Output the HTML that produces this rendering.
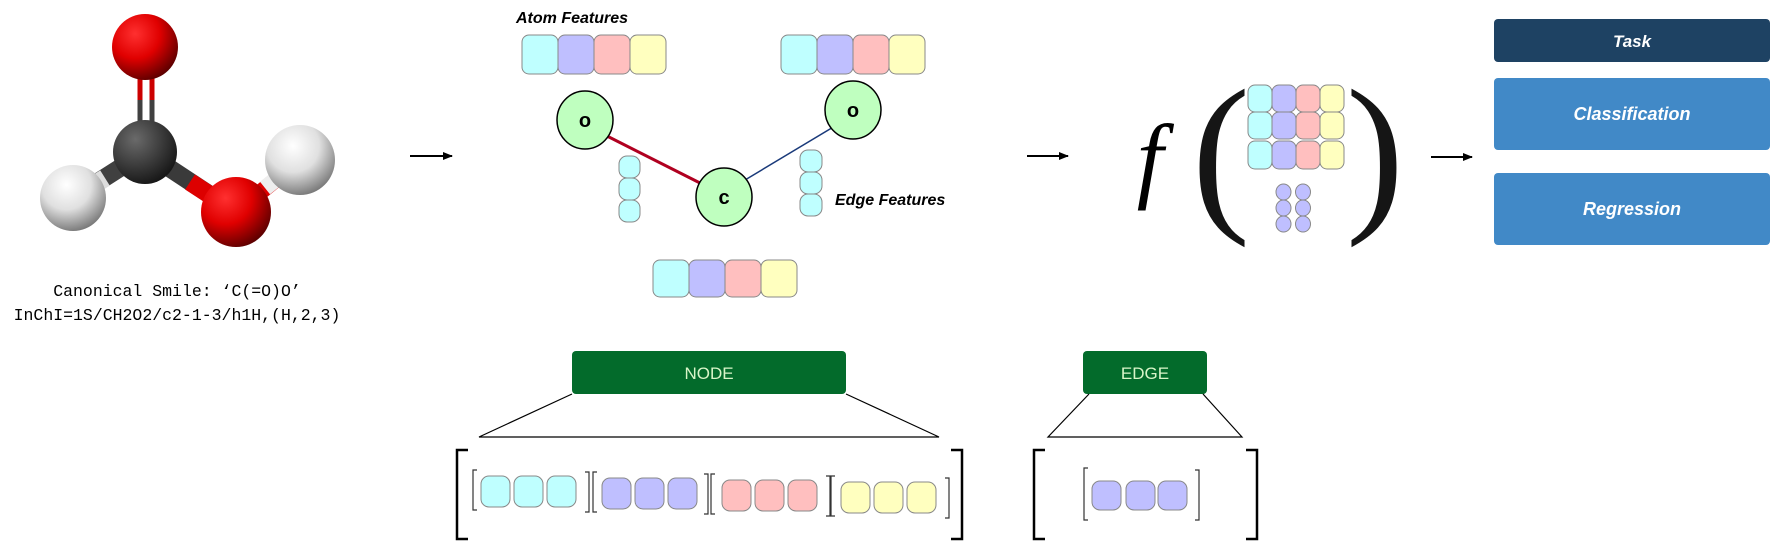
<!DOCTYPE html>
<html><head><meta charset="utf-8"><style>
html,body{margin:0;padding:0;background:#fff;}
svg{display:block}
.cur{font-family:"Liberation Sans",sans-serif;font-style:italic;font-weight:bold;}
</style></head><body>
<svg width="1775" height="546" viewBox="0 0 1775 546" xmlns="http://www.w3.org/2000/svg">
<defs>
<radialGradient id="rO" cx="0.35" cy="0.3" r="0.75"><stop offset="0" stop-color="#ff3030"/><stop offset="0.5" stop-color="#e00000"/><stop offset="1" stop-color="#5a0000"/></radialGradient>
<radialGradient id="rC" cx="0.35" cy="0.3" r="0.75"><stop offset="0" stop-color="#6a6a6a"/><stop offset="0.5" stop-color="#404040"/><stop offset="1" stop-color="#151515"/></radialGradient>
<radialGradient id="rH" cx="0.4" cy="0.3" r="0.75"><stop offset="0" stop-color="#ffffff"/><stop offset="0.5" stop-color="#e0e0e0"/><stop offset="1" stop-color="#707070"/></radialGradient>
<marker id="ar" markerWidth="10" markerHeight="8" refX="9" refY="4" orient="auto" markerUnits="userSpaceOnUse"><path d="M0,0 L10,4 L0,8 z" fill="#000"/></marker>
</defs>
<!-- molecule bonds -->
<g stroke-linecap="butt">
<line x1="140" y1="70" x2="140" y2="140" stroke="#cc0000" stroke-width="5"/>
<line x1="152" y1="70" x2="152" y2="140" stroke="#cc0000" stroke-width="5"/>
<line x1="140" y1="100" x2="140" y2="140" stroke="#404040" stroke-width="5"/>
<line x1="152" y1="100" x2="152" y2="140" stroke="#404040" stroke-width="5"/>
<line x1="145" y1="152" x2="73" y2="198" stroke="#404040" stroke-width="18"/>
<line x1="105" y1="178" x2="73" y2="198" stroke="#dddddd" stroke-width="18"/>
<line x1="145" y1="152" x2="236" y2="212" stroke="#3a3a3a" stroke-width="18"/>
<line x1="190" y1="182" x2="236" y2="212" stroke="#dd0000" stroke-width="18"/>
<line x1="236" y1="212" x2="300" y2="160" stroke="#dd0000" stroke-width="16"/>
<line x1="265" y1="188" x2="300" y2="160" stroke="#eeeeee" stroke-width="16"/>
</g>
<circle cx="145" cy="47" r="33" fill="url(#rO)"/>
<circle cx="145" cy="152" r="32" fill="url(#rC)"/>
<circle cx="73" cy="198" r="33" fill="url(#rH)"/>
<circle cx="236" cy="212" r="35" fill="url(#rO)"/>
<circle cx="300" cy="160" r="35" fill="url(#rH)"/>
<text x="177" y="296" font-family="Liberation Mono,monospace" font-size="16.5" text-anchor="middle">Canonical Smile: ‘C(=O)O’</text>
<text x="177" y="320" font-family="Liberation Mono,monospace" font-size="16.5" text-anchor="middle">InChI=1S/CH2O2/c2-1-3/h1H,(H,2,3)</text>
<!-- arrows -->
<line x1="410" y1="156" x2="452" y2="156" stroke="#000" stroke-width="2" marker-end="url(#ar)"/>
<line x1="1027" y1="156" x2="1068" y2="156" stroke="#000" stroke-width="2" marker-end="url(#ar)"/>
<line x1="1431" y1="157" x2="1472" y2="157" stroke="#000" stroke-width="2" marker-end="url(#ar)"/>
<!-- graph -->
<text class="cur" x="516" y="23" font-size="16">Atom Features</text>
<text class="cur" x="835" y="205" font-size="16">Edge Features</text>
<g stroke="#888" stroke-width="1">
<rect x="522" y="35" width="36" height="39" rx="7" fill="#bfffff"/>
<rect x="558" y="35" width="36" height="39" rx="7" fill="#bfbfff"/>
<rect x="594" y="35" width="36" height="39" rx="7" fill="#ffbfbf"/>
<rect x="630" y="35" width="36" height="39" rx="7" fill="#ffffbf"/>
<rect x="781" y="35" width="36" height="39" rx="7" fill="#bfffff"/>
<rect x="817" y="35" width="36" height="39" rx="7" fill="#bfbfff"/>
<rect x="853" y="35" width="36" height="39" rx="7" fill="#ffbfbf"/>
<rect x="889" y="35" width="36" height="39" rx="7" fill="#ffffbf"/>
<rect x="653" y="260" width="36" height="37" rx="7" fill="#bfffff"/>
<rect x="689" y="260" width="36" height="37" rx="7" fill="#bfbfff"/>
<rect x="725" y="260" width="36" height="37" rx="7" fill="#ffbfbf"/>
<rect x="761" y="260" width="36" height="37" rx="7" fill="#ffffbf"/>
<rect x="619" y="156" width="21" height="22" rx="8" fill="#bfffff"/>
<rect x="619" y="178" width="21" height="22" rx="8" fill="#bfffff"/>
<rect x="619" y="200" width="21" height="22" rx="8" fill="#bfffff"/>
<rect x="800" y="150" width="22" height="22" rx="8" fill="#bfffff"/>
<rect x="800" y="172" width="22" height="22" rx="8" fill="#bfffff"/>
<rect x="800" y="194" width="22" height="22" rx="8" fill="#bfffff"/>
</g>
<line x1="605" y1="135" x2="700" y2="183" stroke="#b00020" stroke-width="3"/>
<line x1="745" y1="180" x2="835" y2="126" stroke="#1a3a7a" stroke-width="1.5"/>
<g stroke="#000" stroke-width="1.5" fill="#bfffbf">
<ellipse cx="585" cy="120" rx="28" ry="29"/>
<ellipse cx="853" cy="110" rx="28" ry="29"/>
<ellipse cx="724" cy="197" rx="28" ry="29"/>
</g>
<g font-family="Liberation Sans,sans-serif" font-weight="bold" font-size="20" text-anchor="middle">
<text x="585" y="127">o</text><text x="853" y="117">o</text><text x="724" y="204">c</text>
</g>
<!-- f( ) -->
<text x="1150" y="190" font-family="Liberation Serif,serif" font-style="italic" font-size="95" text-anchor="middle">f</text>
<text x="1221" y="210" font-family="Liberation Serif,serif" font-size="175" text-anchor="middle" fill="#151515">(</text>
<text x="1375" y="210" font-family="Liberation Serif,serif" font-size="175" text-anchor="middle" fill="#151515">)</text>
<g stroke="#888" stroke-width="1">
<rect x="1248" y="85" width="24" height="27" rx="7" fill="#bfffff"/><rect x="1272" y="85" width="24" height="27" rx="7" fill="#bfbfff"/><rect x="1296" y="85" width="24" height="27" rx="7" fill="#ffbfbf"/><rect x="1320" y="85" width="24" height="27" rx="7" fill="#ffffbf"/>
<rect x="1248" y="112" width="24" height="27" rx="7" fill="#bfffff"/><rect x="1272" y="112" width="24" height="27" rx="7" fill="#bfbfff"/><rect x="1296" y="112" width="24" height="27" rx="7" fill="#ffbfbf"/><rect x="1320" y="112" width="24" height="27" rx="7" fill="#ffffbf"/>
<rect x="1248" y="141" width="24" height="28" rx="7" fill="#bfffff"/><rect x="1272" y="141" width="24" height="28" rx="7" fill="#bfbfff"/><rect x="1296" y="141" width="24" height="28" rx="7" fill="#ffbfbf"/><rect x="1320" y="141" width="24" height="28" rx="7" fill="#ffffbf"/>
<ellipse cx="1283.5" cy="192" rx="7.5" ry="8" fill="#bfbfff"/><ellipse cx="1303" cy="192" rx="7.5" ry="8" fill="#bfbfff"/>
<ellipse cx="1283.5" cy="208" rx="7.5" ry="8" fill="#bfbfff"/><ellipse cx="1303" cy="208" rx="7.5" ry="8" fill="#bfbfff"/>
<ellipse cx="1283.5" cy="224" rx="7.5" ry="8" fill="#bfbfff"/><ellipse cx="1303" cy="224" rx="7.5" ry="8" fill="#bfbfff"/>
</g>
<!-- task -->
<rect x="1494" y="19" width="276" height="43" rx="4" fill="#1e4263"/>
<rect x="1494" y="78" width="276" height="72" rx="4" fill="#4189c7"/>
<rect x="1494" y="173" width="276" height="72" rx="4" fill="#4189c7"/>
<g class="cur" fill="#fff" text-anchor="middle">
<text x="1632" y="47" font-size="17">Task</text>
<text x="1632" y="120" font-size="18">Classification</text>
<text x="1632" y="215" font-size="18">Regression</text>
</g>
<!-- NODE -->
<rect x="572" y="351" width="274" height="43" rx="4" fill="#036b2b"/>
<text x="709" y="379" font-family="Liberation Sans,sans-serif" font-size="17" fill="#d8f5c8" text-anchor="middle">NODE</text>
<path d="M572,394 L479,437 L939,437 L846,394" fill="none" stroke="#000" stroke-width="1.2"/>
<path d="M468,450 L457,450 L457,539 L468,539 M951,450 L962,450 L962,539 L951,539" fill="none" stroke="#000" stroke-width="2.5"/>
<g fill="none" stroke="#333" stroke-width="1.2">
<path d="M477,470 L473,470 L473,510 L477,510 M585,472 L589,472 L589,512 L585,512"/>
<path d="M597,472 L593,472 L593,512 L597,512 M704,474 L708,474 L708,514 L704,514"/>
<path d="M715,474 L711,474 L711,514 L715,514 M826,476 L830,476 L830,516 L826,516"/>
<path d="M835,476 L831,476 L831,516 L835,516 M945,478 L949,478 L949,518 L945,518"/>
<path d="M1088,468 L1084,468 L1084,520 L1088,520 M1195,470 L1199,470 L1199,520 L1195,520"/>
</g>
<g stroke="#888" stroke-width="1">
<rect x="481" y="476" width="29" height="31" rx="8" fill="#bfffff"/><rect x="514" y="476" width="29" height="31" rx="8" fill="#bfffff"/><rect x="547" y="476" width="29" height="31" rx="8" fill="#bfffff"/>
<rect x="602" y="478" width="29" height="31" rx="8" fill="#bfbfff"/><rect x="635" y="478" width="29" height="31" rx="8" fill="#bfbfff"/><rect x="668" y="478" width="29" height="31" rx="8" fill="#bfbfff"/>
<rect x="722" y="480" width="29" height="31" rx="8" fill="#ffbfbf"/><rect x="755" y="480" width="29" height="31" rx="8" fill="#ffbfbf"/><rect x="788" y="480" width="29" height="31" rx="8" fill="#ffbfbf"/>
<rect x="841" y="482" width="29" height="31" rx="8" fill="#ffffbf"/><rect x="874" y="482" width="29" height="31" rx="8" fill="#ffffbf"/><rect x="907" y="482" width="29" height="31" rx="8" fill="#ffffbf"/>
<rect x="1092" y="481" width="29" height="29" rx="8" fill="#bfbfff"/><rect x="1126" y="481" width="29" height="29" rx="8" fill="#bfbfff"/><rect x="1158" y="481" width="29" height="29" rx="8" fill="#bfbfff"/>
</g>
<!-- EDGE -->
<rect x="1083" y="351" width="124" height="43" rx="4" fill="#036b2b"/>
<text x="1145" y="379" font-family="Liberation Sans,sans-serif" font-size="17" fill="#d8f5c8" text-anchor="middle">EDGE</text>
<path d="M1089,394 L1048,437 L1242,437 L1203,394" fill="none" stroke="#000" stroke-width="1.2"/>
<path d="M1045,450 L1034,450 L1034,539 L1045,539 M1246,450 L1257,450 L1257,539 L1246,539" fill="none" stroke="#000" stroke-width="2.5"/>
</svg>
</body></html>
